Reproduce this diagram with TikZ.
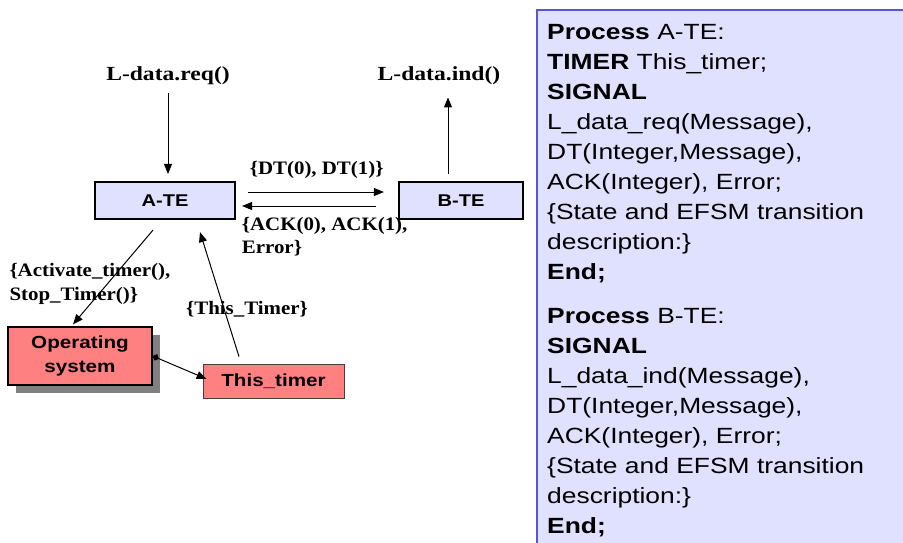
\documentclass[tikz,border=0pt]{standalone}
\usepackage{fontspec}
\usetikzlibrary{arrows.meta,shadows}
% wide-set fonts for the panel, the boxes and the labels
\newfontfamily\panelfont[FakeStretch=1.2]{Liberation Sans}
\newfontfamily\boxfont[FakeStretch=1.18]{Liberation Sans}
\newfontfamily\iofont[FakeStretch=1.18]{Liberation Serif}
\newfontfamily\sigfont[FakeStretch=1.1]{Liberation Serif}
\definecolor{lav}{RGB}{224,224,255}
\definecolor{panelblue}{RGB}{85,85,221}
\definecolor{osred}{RGB}{255,128,128}
\definecolor{shadowgray}{RGB}{128,128,128}
\begin{document}
\begin{tikzpicture}[x=1pt,y=-1pt,
  procbox/.style={draw=black, line width=2.2pt, fill=lav, inner sep=0pt,
    minimum height=37pt, font=\boxfont\fontsize{17}{20}\selectfont\bfseries},
  osbox/.style={draw=black, line width=1.2pt, fill=osred, inner sep=0pt,
    align=center, font=\boxfont\fontsize{17.5}{24}\selectfont\bfseries,
    general shadow={fill=shadowgray, shadow xshift=7.5pt, shadow yshift=-7.5pt}},
  tmrbox/.style={draw=black!75, line width=0.8pt, fill=osred, inner sep=0pt,
    font=\boxfont\fontsize{17.5}{21}\selectfont\bfseries},
  iolabel/.style={inner sep=0pt, font=\iofont\fontsize{20}{23}\selectfont\bfseries},
  siglabel/.style={inner sep=0pt, align=left, font=\sigfont\fontsize{19}{23.3}\selectfont\bfseries},
  paneltext/.style={inner sep=0pt, align=left, anchor=north west,
    font=\panelfont\fontsize{22}{30}\selectfont},
  conn/.style={draw=black, line width=1pt, -{Triangle[length=10pt,width=8pt]}},
  link/.style={draw=black, line width=1pt,
    {Diamond[length=7pt,width=7pt]}-{Triangle[length=10pt,width=8pt]}}
]
\useasboundingbox (0,0) rectangle (903,542);

% declaration panel on the right
\path[fill=lav, draw=panelblue, line width=2pt] (537,10) rectangle (915,560);
\node[paneltext] (pa) at (547,24.5) {%
\textbf{Process} A-TE:\\
\textbf{TIMER} This\_timer;\\
\textbf{SIGNAL}\\
L\_data\_req(Message),\\
DT(Integer,Message),\\
ACK(Integer), Error;\\
\{State and EFSM transition\\
description:\}\\
\textbf{End;}};
\node[paneltext] (pb) at (547,308.5) {%
\textbf{Process} B-TE:\\
\textbf{SIGNAL}\\
L\_data\_ind(Message),\\
DT(Integer,Message),\\
ACK(Integer), Error;\\
\{State and EFSM transition\\
description:\}\\
\textbf{End;}};

% processes and timer
\node[procbox, minimum width=140pt] (ate) at (165,200.5) {A-TE};
\node[procbox, minimum width=124pt] (bte) at (461,200.5) {B-TE};
\node[osbox, minimum width=144pt, minimum height=58pt] (os) at (80,356) {Operating\\system};
\node[tmrbox, minimum width=141pt, minimum height=34pt] (tmr) at (273.5,381) {This\_timer};

% labels
\node[iolabel, anchor=base] (lreq) at (168,80) {L-data.req()};
\node[iolabel, anchor=base] (lind) at (439,80) {L-data.ind()};
\node[siglabel, anchor=base] (ldt) at (316.7,174.3) {\{DT(0), DT(1)\}};
\node[siglabel, anchor=north west] (lack) at (241.7,217) {\{ACK(0), ACK(1),\\Error\}};
\node[siglabel, anchor=north west] (lact) at (9.3,263.5) {\{Activate\_timer(),\\Stop\_Timer()\}};
\node[siglabel, anchor=base] (ltim) at (247,314) {\{This\_Timer\}};

% connectors
\draw[conn] ([yshift=-9pt]lreq.south) -- ([xshift=3pt,yshift=7pt]ate.north);
\draw[conn] ([xshift=-13pt,yshift=7pt]bte.north) -- ([xshift=9pt,yshift=-13pt]lind.south);
\draw[conn] ([xshift=12pt,yshift=8.5pt]ate.east) -- ([xshift=-14pt,yshift=8.5pt]bte.west);
\draw[conn] ([xshift=-22pt,yshift=-5.5pt]bte.west) -- ([xshift=6pt,yshift=-5.5pt]ate.east);
\draw[conn] ([xshift=-12pt,yshift=-10pt]ate.south) -- ([xshift=-7pt,yshift=2pt]os.north);
\draw[conn] ([xshift=-34.5pt,yshift=7pt]tmr.north) -- ([xshift=35pt,yshift=-12pt]ate.south);
\draw[link] (os.east) -- ([xshift=4pt,yshift=2pt]tmr.west);
\end{tikzpicture}
\end{document}
